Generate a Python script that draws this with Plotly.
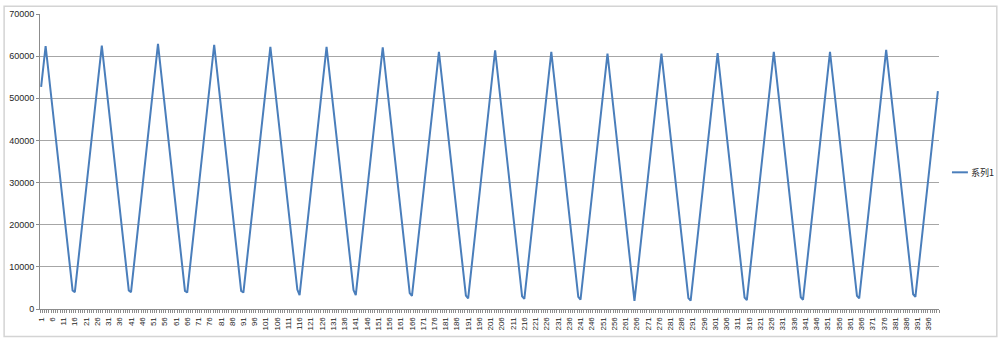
import plotly.graph_objects as go

# category labels 1..400
categories = list(range(1, 401))
tick_labels = [str(i) for i in range(1, 401, 5)]
series_name = "系列1"

# values (400 points)
values = [
    52700, 57500, 62400, 57600, 52700, 47900, 43100, 38200, 33400, 28600,
    23700, 18900, 14100, 9200, 4400, 4000, 8900, 13800, 18600, 23500,
    28400, 33300, 38100, 43000, 47900, 52800, 57600, 62500, 57700, 52800,
    48000, 43100, 38300, 33500, 28600, 23800, 18900, 14100, 9200, 4400,
    4000, 8900, 13800, 18700, 23600, 28500, 33500, 38400, 43300, 48200,
    53100, 58000, 62900, 58000, 53100, 48300, 43400, 38500, 33600, 28700,
    23800, 19000, 14100, 9200, 4300, 3900, 8800, 13700, 18600, 23500,
    28400, 33300, 38200, 43100, 48000, 52900, 57800, 62700, 57800, 53000,
    48100, 43200, 38400, 33500, 28600, 23800, 18900, 14000, 9200, 4300,
    3900, 8800, 13600, 18500, 23300, 28200, 33100, 37900, 42800, 47600,
    52500, 57300, 62200, 57400, 52600, 47800, 43000, 38200, 33400, 28600,
    23800, 19000, 14200, 9400, 4600, 3300, 8200, 13100, 18000, 22900,
    27800, 32800, 37700, 42600, 47500, 52400, 57300, 62200, 57400, 52600,
    47800, 43000, 38200, 33400, 28500, 23700, 18900, 14100, 9300, 4500,
    3300, 8200, 13100, 18000, 22900, 27800, 32700, 37600, 42500, 47400,
    52300, 57200, 62100, 57200, 52400, 47500, 42700, 37800, 33000, 28100,
    23200, 18400, 13500, 8700, 3800, 3100, 7900, 12800, 17600, 22400,
    27200, 32100, 36900, 41700, 46500, 51400, 56200, 61000, 56200, 51400,
    46600, 41700, 36900, 32100, 27300, 22500, 17700, 12800, 8000, 3200,
    2500, 7400, 12300, 17200, 22100, 27000, 32000, 36900, 41800, 46700,
    51600, 56500, 61400, 56500, 51700, 46800, 41900, 37100, 32200, 27300,
    22500, 17600, 12700, 7900, 3000, 2400, 7300, 12200, 17100, 21900,
    26800, 31700, 36600, 41500, 46400, 51200, 56100, 61000, 56200, 51300,
    46500, 41600, 36800, 32000, 27100, 22300, 17400, 12600, 7700, 2900,
    2200, 7100, 11900, 16800, 21700, 26500, 31400, 36300, 41100, 46000,
    50900, 55700, 60600, 55700, 50800, 45900, 41000, 36100, 31300, 26400,
    21500, 16600, 11700, 6800, 1900, 6800, 11700, 16600, 21500, 26400,
    31300, 36100, 41000, 45900, 50800, 55700, 60600, 55800, 50900, 46100,
    41300, 36400, 31600, 26800, 21900, 17100, 12300, 7400, 2600, 2000,
    6900, 11800, 16700, 21600, 26500, 31400, 36200, 41100, 46000, 50900,
    55800, 60700, 55900, 51000, 46200, 41400, 36500, 31700, 26900, 22000,
    17200, 12400, 7500, 2700, 2100, 7000, 11900, 16800, 21700, 26600,
    31600, 36500, 41400, 46300, 51200, 56100, 61000, 56200, 51300, 46500,
    41600, 36800, 31900, 27100, 22200, 17400, 12500, 7700, 2800, 2200,
    7100, 12000, 16900, 21800, 26700, 31600, 36500, 41400, 46300, 51200,
    56100, 61000, 56200, 51400, 46500, 41700, 36900, 32100, 27200, 22400,
    17600, 12800, 7900, 3100, 2500, 7400, 12300, 17300, 22200, 27100,
    32000, 36900, 41800, 46800, 51700, 56600, 61500, 56700, 51800, 47000,
    42200, 37300, 32500, 27700, 22800, 18000, 13200, 8300, 3500, 2900,
    7800, 12700, 17600, 22400, 27300, 32200, 37100, 42000, 46900, 51700,
]

tick_positions = [int(t) for t in tick_labels]

W, H = 999, 340
L, R, T, B = 37, 60, 9, 31
pw, ph = W - L - R, H - T - B

def px_x(px):
    return (px - L) / pw

def px_y(py):
    return (H - B - py) / ph

axis_gray = "#8c8c8c"
grid_gray = "#a6a6a6"
line_blue = "#4a7ebb"
text_col = "#262626"

fig = go.Figure()
fig.add_trace(go.Scatter(
    x=categories, y=values, mode="lines", name=series_name,
    line=dict(color=line_blue, width=2),
    showlegend=False,
))

fig.update_layout(
    width=W, height=H,
    margin=dict(l=L, r=R, t=T, b=B, pad=0),
    paper_bgcolor="white", plot_bgcolor="white",
    font=dict(family="Liberation Sans, Arial, sans-serif", size=8, color=text_col),
    xaxis=dict(
        type="linear", range=[0.5, 400.5],
        tickmode="array", tickvals=tick_positions, ticktext=tick_labels,
        tickangle=-90, ticks="", showgrid=False, zeroline=False,
        showline=True, linecolor=axis_gray, linewidth=1,
        tickfont=dict(size=8, color=text_col),
        ticklabelstandoff=4,
        minor=dict(tickmode="linear", tick0=0.5, dtick=1, ticks="outside",
                   ticklen=3, tickcolor=axis_gray, tickwidth=1, showgrid=False),
    ),
    yaxis=dict(
        range=[0, 70000], dtick=10000, tick0=0, tickformat="d",
        showgrid=True, gridcolor=grid_gray, gridwidth=1, zeroline=False,
        showline=True, linecolor=axis_gray, linewidth=1,
        ticks="outside", ticklen=3, tickcolor=axis_gray,
        tickfont=dict(size=9, color=text_col),
    ),
    showlegend=False,
)

# chart-area border (Excel style)
fig.add_shape(type="rect", xref="paper", yref="paper",
              x0=px_x(1), x1=px_x(997), y0=px_y(337), y1=px_y(1),
              line=dict(color="#d4d4d4", width=1.5), fillcolor="rgba(0,0,0,0)",
              layer="below")

# legend (line sample + label)
fig.add_shape(type="line", xref="paper", yref="paper",
              x0=px_x(952), x1=px_x(968), y0=px_y(170), y1=px_y(170),
              line=dict(color=line_blue, width=2))
fig.add_annotation(xref="paper", yref="paper", x=px_x(969), y=px_y(170),
                   text=series_name, showarrow=False, xanchor="left", yanchor="middle",
                   font=dict(family="Noto Sans CJK SC", size=9, color=text_col))

fig.write_html("out.html")
